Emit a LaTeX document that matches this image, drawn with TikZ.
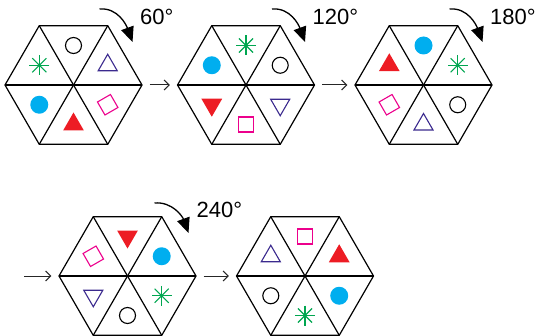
\documentclass[tikz,border=0pt]{standalone}
\usepackage{fontspec}
\setmainfont{Liberation Sans}
\usetikzlibrary{shapes.geometric,arrows.meta}
\definecolor{symgreen}{HTML}{00A650}
\definecolor{symblue}{HTML}{00AEEF}
\definecolor{symred}{HTML}{ED1C24}
\definecolor{sympink}{HTML}{EC008C}
\definecolor{sympurple}{HTML}{3B2A8E}
% position of a symbol in one of the six triangles
\newcommand{\sect}[2]{([shift={(#2:39.5)}]#1.center)}

\begin{document}
\begin{tikzpicture}[
  x=1pt, y=1pt,
  hexa/.style={regular polygon, regular polygon sides=6, minimum size=137pt, inner sep=0pt, draw, line width=1.2pt},
  spoke/.style={line width=1.2pt},
  arr/.style={-{Straight Barb[length=5pt,width=10pt]}, line width=1pt, black!85, shorten <=7pt, shorten >=7pt},
  turn/.style={-{Triangle[length=15pt,width=13pt]}, line width=1.3pt},
  angle/.style={anchor=west, inner sep=0pt, font=\fontsize{22}{25}\selectfont},
  ocirc/.style={circle, draw, line width=1.1pt, minimum size=16pt, inner sep=0pt},
  bdot/.style={circle, fill=symblue, minimum size=18pt, inner sep=0pt},
  ptri/.style={regular polygon, regular polygon sides=3, draw=sympurple, line width=1.1pt, minimum size=22pt, inner sep=0pt},
  rtri/.style={regular polygon, regular polygon sides=3, fill=symred, minimum size=24pt, inner sep=0pt},
  down/.style={shape border rotate=180},
  psq/.style={rectangle, draw=sympink, line width=1.1pt, minimum size=15pt, inner sep=0pt},
  aster/.pic={\foreach \a in {0,45,90,135} \draw[symgreen, line width=1.1pt] (\a:10) -- (\a+180:10);}
]
\useasboundingbox (0,0) rectangle (540,335);

% hexagons
\node[hexa] (h1) at (73.5,250) {};
\node[hexa] (h2) at (246,250) {};
\node[hexa] (h3) at (423.5,250) {};
\node[hexa] (h4) at (127.5,59) {};
\node[hexa] (h5) at (305,59) {};
\foreach \h in {h1,h2,h3,h4,h5}
  \foreach \a in {0,60,120}
    \draw[spoke] ([shift={(\a:68.5)}]\h.center) -- ([shift={(\a+180:68.5)}]\h.center);

% symbols
\node[ocirc] at \sect{h1}{90} {};
\node[ptri] at \sect{h1}{30} {};
\node[psq, rotate=30] at \sect{h1}{-30} {};
\node[rtri] at \sect{h1}{-90} {};
\node[bdot] at \sect{h1}{-150} {};
\pic at \sect{h1}{150} {aster};

\pic at \sect{h2}{90} {aster};
\node[ocirc] at \sect{h2}{30} {};
\node[ptri, down] at \sect{h2}{-30} {};
\node[psq] at \sect{h2}{-90} {};
\node[rtri, down] at \sect{h2}{-150} {};
\node[bdot] at \sect{h2}{150} {};

\node[bdot] at \sect{h3}{90} {};
\pic at \sect{h3}{30} {aster};
\node[ocirc] at \sect{h3}{-30} {};
\node[ptri] at \sect{h3}{-90} {};
\node[psq, rotate=30] at \sect{h3}{-150} {};
\node[rtri] at \sect{h3}{150} {};

\node[rtri, down] at \sect{h4}{90} {};
\node[bdot] at \sect{h4}{30} {};
\pic at \sect{h4}{-30} {aster};
\node[ocirc] at \sect{h4}{-90} {};
\node[ptri, down] at \sect{h4}{-150} {};
\node[psq, rotate=30] at \sect{h4}{150} {};

\node[psq] at \sect{h5}{90} {};
\node[rtri] at \sect{h5}{30} {};
\node[bdot] at \sect{h5}{-30} {};
\pic at \sect{h5}{-90} {aster};
\node[ocirc] at \sect{h5}{-150} {};
\node[ptri] at \sect{h5}{150} {};

% rotation marks
\foreach \h/\t in {h1/60,h2/120,h3/180} {
  \draw[turn] ([shift={(26,76)}]\h.center) to[out=5,in=110] ([shift={(59,43)}]\h.center);
  \node[angle] at ([shift={(66.5,68)}]\h.center) {\t°};
}
\draw[turn] ([shift={(27,73)}]h4.center) to[out=5,in=110] ([shift={(61,43)}]h4.center);
\node[angle] (l4) at ([shift={(69,66)}]h4.center) {240°};

% steps
\coordinate (s4) at (17,59);
\draw[arr] (h1.east) -- (h2.west);
\draw[arr] (h2.east) -- (h3.west);
\draw[arr] (s4) -- (h4.west);
\draw[arr] (h4.east) -- (h5.west);
\end{tikzpicture}
\end{document}
